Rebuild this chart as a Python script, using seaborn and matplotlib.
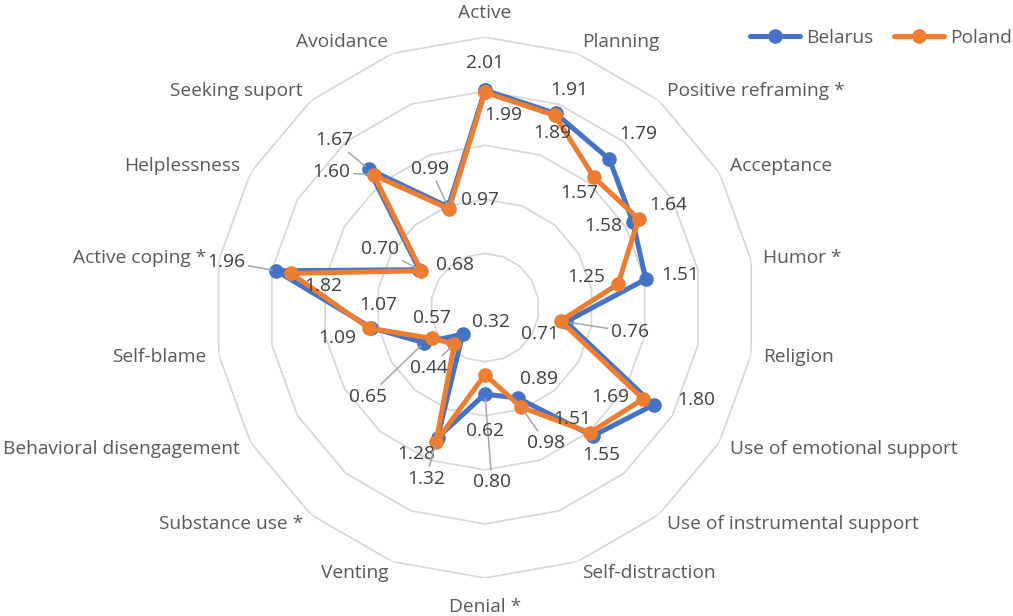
import numpy as np
import pandas as pd
import matplotlib
matplotlib.use("Agg")
import matplotlib.pyplot as plt
from matplotlib.lines import Line2D
import seaborn as sns

# categorias en el orden del grafico (en sentido horario desde arriba)
categorias = [
    "Active", "Planning", "Positive reframing *", "Acceptance", "Humor *",
    "Religion", "Use of emotional support", "Use of instrumental support",
    "Self-distraction", "Denial *", "Venting", "Substance use *",
    "Behavioral disengagement", "Self-blame", "Active coping *",
    "Helplessness", "Seeking suport", "Avoidance",
]
belarus = [2.01, 1.91, 1.79, 1.58, 1.51, 0.76, 1.80, 1.55, 0.89, 0.80,
           1.28, 0.32, 0.65, 1.07, 1.96, 0.70, 1.67, 0.99]
poland = [1.99, 1.89, 1.57, 1.64, 1.25, 0.71, 1.69, 1.51, 0.98, 0.62,
          1.32, 0.44, 0.57, 1.09, 1.82, 0.68, 1.60, 0.97]
anillos = [0.5, 1.0, 1.5, 2.0, 2.5]

# desplazamiento de las etiquetas de datos en pixeles (x, y hacia abajo) y si llevan linea guia
off_bel = [(0, -27, 0), (14, -23, 0), (29, -25, 0), (-30, 4, 0), (34, -4, 0),
           (64, 10, 1), (43, -5, 0), (9, 19, 0), (21, -19, 0), (7, 88, 1),
           (-21, 16, 0), (28, -12, 0), (-56, 54, 1), (7, -23, 0), (-50, -9, 1),
           (-39, -21, 1), (-35, -29, 1), (-18, -38, 1)]
off_pol = [(18, 23, 0), (-3, 18, 0), (-15, 16, 0), (30, -14, 0), (-32, -7, 0),
           (-21, 13, 0), (-33, -2, 0), (-18, -14, 0), (25, 36, 1), (0, 56, 0),
           (-10, 37, 1), (-25, 24, 1), (0, -20, 0), (-32, 10, 0), (32, 13, 0),
           (34, -6, 0), (-42, -3, 1), (31, -9, 0)]

AZUL = "#4472C4"
NARANJA = "#ED7D31"

n = len(categorias)
theta = np.arange(n) * 2 * np.pi / n
theta_c = np.append(theta, 2 * np.pi)

filas = []
for pais, vals in [("Belarus", belarus), ("Poland", poland)]:
    for t, v in zip(theta_c, vals + vals[:1]):
        filas.append({"theta": t, "valor": v, "pais": pais})
df = pd.DataFrame(filas)

sns.set_style("white")
plt.rcParams["font.family"] = ["Open Sans", "DejaVu Sans"]
fs = 13.8

fig = plt.figure(figsize=(10.13, 6.16), dpi=100)
ax = fig.add_axes([0.2117, 0.0617, 0.534, 0.878], projection="polar")
ax.set_theta_offset(np.pi / 2)
ax.set_theta_direction(-1)

# anillos poligonales de la grilla
for r in anillos:
    ax.plot(theta_c, [r] * len(theta_c), color="#D6D6D6", lw=1.2, zorder=1)

sns.lineplot(
    data=df, x="theta", y="valor", hue="pais",
    palette={"Belarus": AZUL, "Poland": NARANJA},
    sort=False, estimator=None, marker="o", markersize=10.5,
    markeredgewidth=0, linewidth=3.6, legend=False, ax=ax, zorder=3,
)

ax.set_ylim(0, 2.5)
ax.grid(False)
ax.set_xticks([])
ax.set_yticks([])
ax.spines["polar"].set_visible(False)
ax.set_xlabel("")
ax.set_ylabel("")

# etiquetas de categorias
for t, lab in zip(theta, categorias):
    s = np.sin(t)
    if abs(s) < 0.05:
        r_lab = 2.72 if np.cos(t) > 0 else 2.77
        ax.text(t, r_lab, lab, ha="center", va="center", fontsize=fs, color="#595959")
    else:
        ax.text(t, 2.615, lab, ha="left" if s > 0 else "right", va="center",
                fontsize=fs, color="#595959")

# etiquetas de datos
for vals, offs in [(belarus, off_bel), (poland, off_pol)]:
    for t, v, (dx, dy, guia) in zip(theta, vals, offs):
        props = None
        if guia:
            props = dict(arrowstyle="-", color="#A6A6A6", lw=1.1, shrinkA=0, shrinkB=3)
        ax.annotate(f"{v:.2f}", xy=(t, v), xytext=(dx, -dy), textcoords="offset pixels",
                    ha="center", va="center", fontsize=fs, color="#404040",
                    arrowprops=props, zorder=4, annotation_clip=False)

handles = [
    Line2D([], [], color=AZUL, lw=3.6, marker="o", markersize=10.5, markeredgewidth=0),
    Line2D([], [], color=NARANJA, lw=3.6, marker="o", markersize=10.5, markeredgewidth=0),
]
leg = fig.legend(handles, ["Belarus", "Poland"], loc="center", bbox_to_anchor=(0.8697, 0.938),
                 ncol=2, frameon=False, fontsize=fs, handlelength=2.6, handletextpad=0.3,
                 columnspacing=1.1)
for txt in leg.get_texts():
    txt.set_color("#595959")

fig.savefig("out.png", dpi=100)
